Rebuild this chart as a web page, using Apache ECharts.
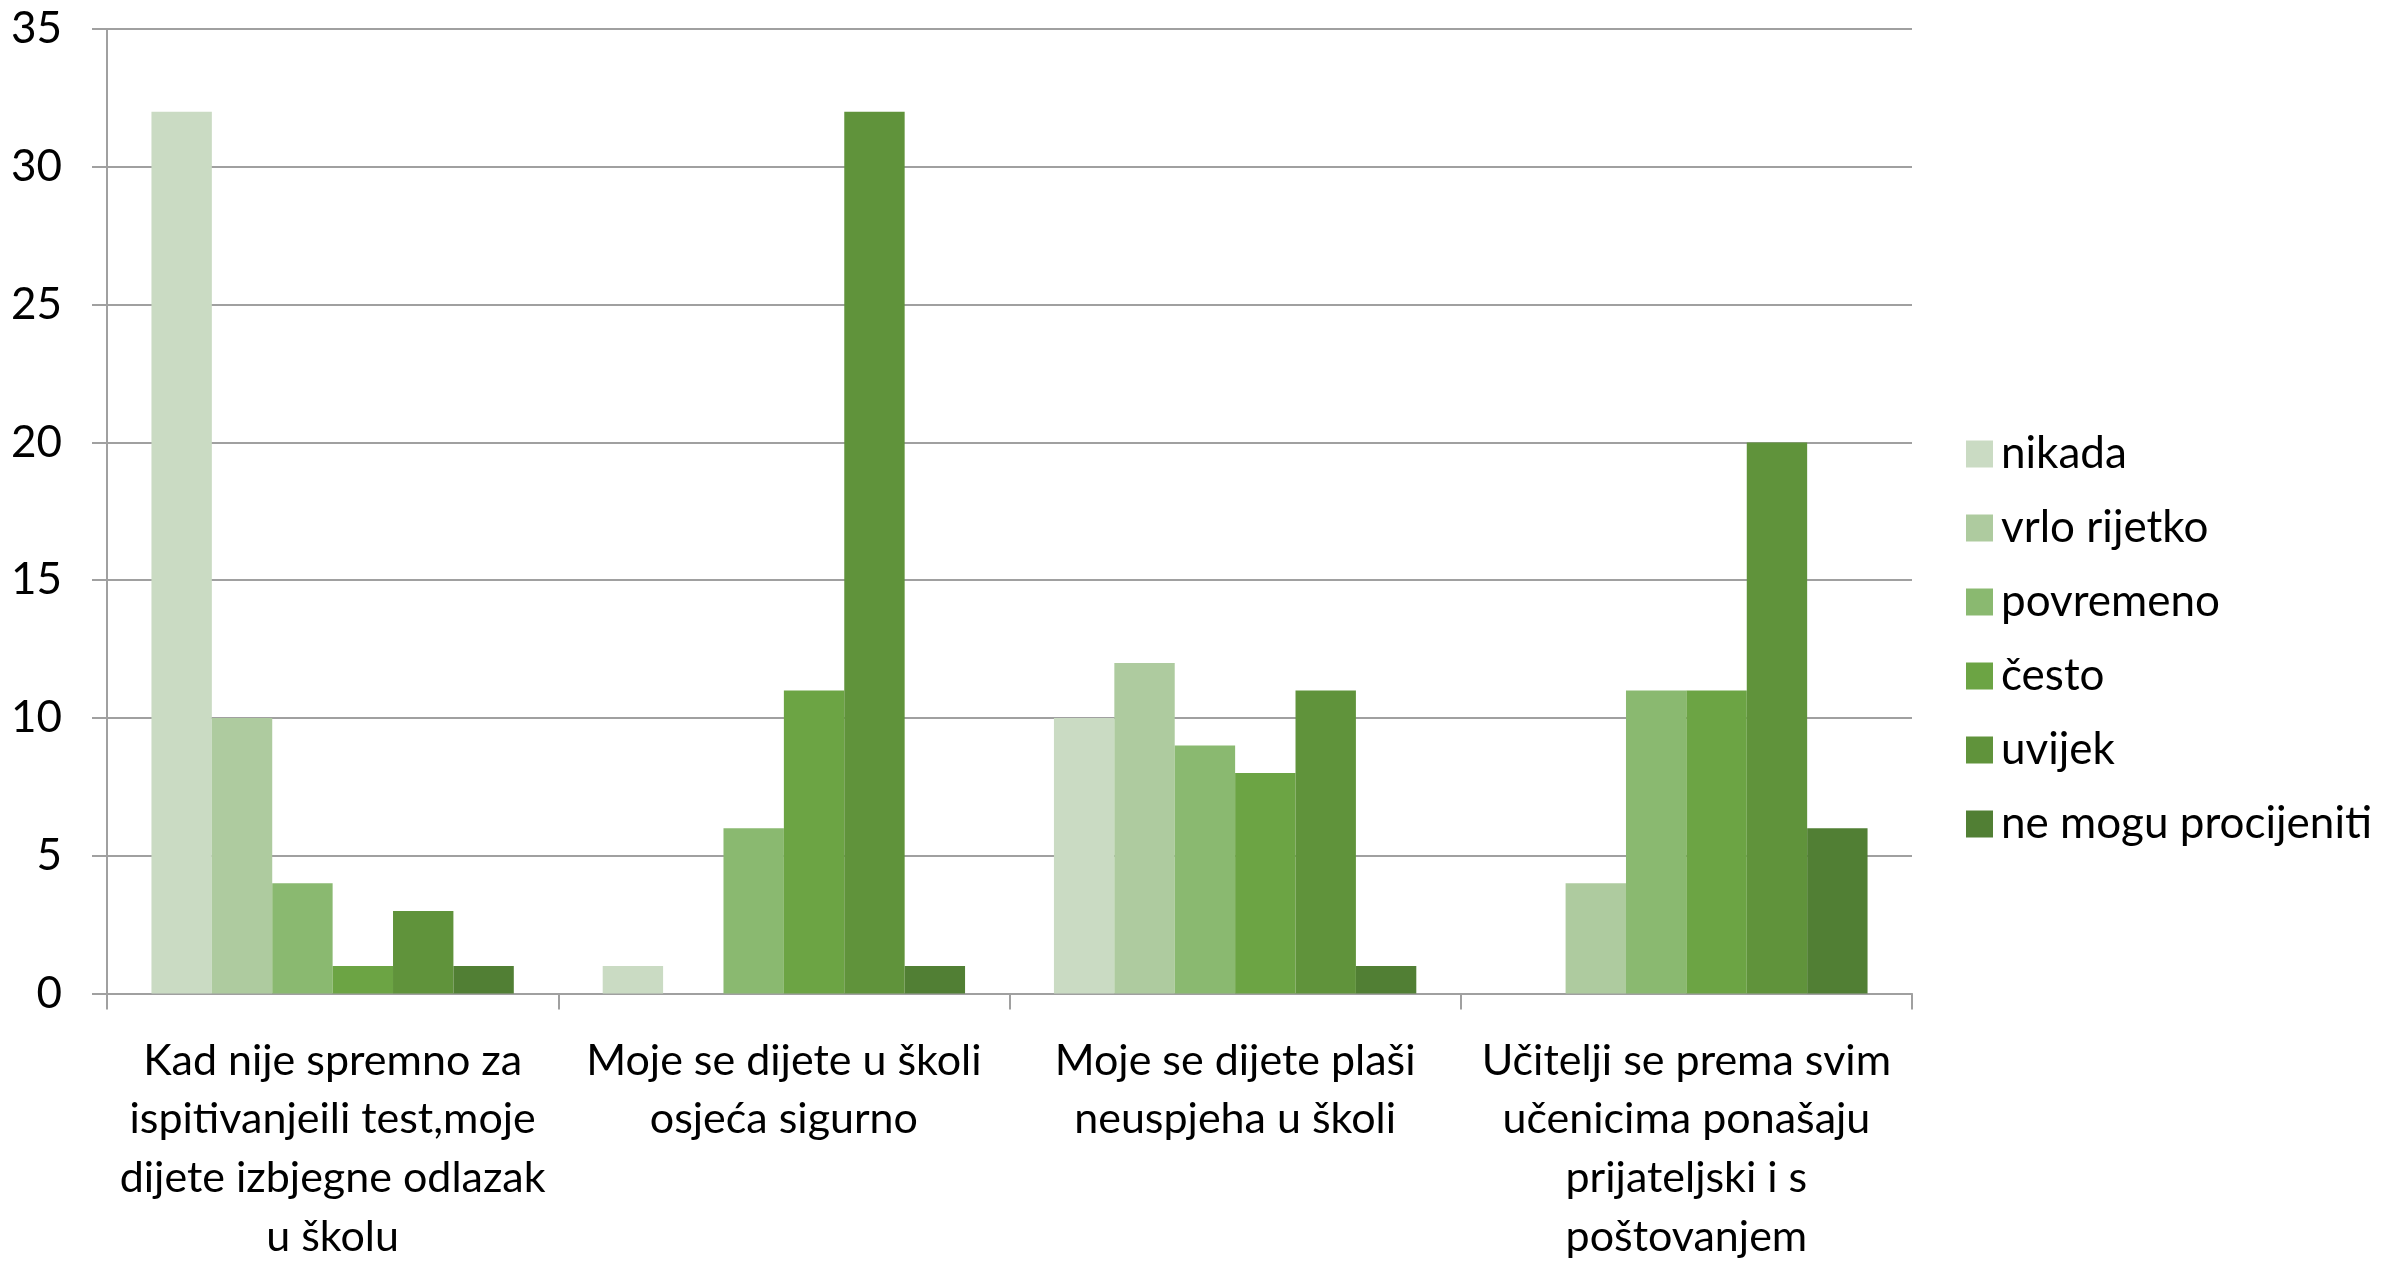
<!DOCTYPE html>
<html>
<head>
<meta charset="utf-8">
<script src="https://cdn.jsdelivr.net/npm/echarts@6/dist/echarts.min.js"></script>
<style>html,body{margin:0;padding:0;background:#fff;}#c{width:2387px;height:1266px;}</style>
</head>
<body>
<div id="c"></div>
<script>
const categories = [
  "Kad nije spremno za\nispitivanjeili test,moje\ndijete izbjegne odlazak\nu školu",
  "Moje se dijete u školi\nosjeća sigurno",
  "Moje se dijete plaši\nneuspjeha u školi",
  "Učitelji se prema svim\nučenicima ponašaju\nprijateljski i s\npoštovanjem"
];
const seriesNames = ["nikada", "vrlo rijetko", "povremeno", "često", "uvijek", "ne mogu procijeniti"];
const nikada = [32, 1, 10, 0];
const vrloRijetko = [10, 0, 12, 4];
const povremeno = [4, 6, 9, 11];
const cesto = [1, 11, 8, 11];
const uvijek = [3, 32, 11, 20];
const neMogu = [1, 1, 1, 6];
const seriesValues = [nikada, vrloRijetko, povremeno, cesto, uvijek, neMogu];
const colors = ["#CADBC3", "#AECB9F", "#8AB970", "#6CA444", "#60933B", "#517F34"];

const FONT = "Lato";
const chart = echarts.init(document.getElementById('c'), null, {renderer: 'canvas'});
chart.setOption({
  animation: false,
  backgroundColor: '#ffffff',
  color: colors,
  textStyle: {fontFamily: FONT},
  grid: {left: 107, right: 475, top: 29, bottom: 262, containLabel: false},
  legend: {
    orient: 'vertical',
    left: 1961,
    top: 427,
    itemWidth: 27,
    itemHeight: 27,
    itemGap: 30,
    icon: 'rect',
    data: seriesNames,
    textStyle: {fontFamily: FONT, fontSize: 44, color: '#000', lineHeight: 44, padding: [0, 0, 0, 3]}
  },
  xAxis: {
    type: 'category',
    data: categories,
    axisLine: {lineStyle: {color: '#A0A0A0', width: 2}},
    axisTick: {show: true, length: 16, lineStyle: {color: '#A0A0A0', width: 2}},
    axisLabel: {fontFamily: FONT, fontSize: 43, color: '#000', lineHeight: 58.6, margin: 38, interval: 0, align: 'center'}
  },
  yAxis: {
    type: 'value',
    min: 0, max: 35, interval: 5,
    axisLine: {show: true, lineStyle: {color: '#A0A0A0', width: 2}},
    axisTick: {show: true, length: 15, lineStyle: {color: '#A0A0A0', width: 2}},
    splitLine: {lineStyle: {color: '#A0A0A0', width: 2}},
    axisLabel: {fontFamily: FONT, fontSize: 44, color: '#000', margin: 45}
  },
  series: seriesNames.map((n, i) => ({
    name: n,
    type: 'bar',
    data: seriesValues[i],
    barGap: '0%',
    barCategoryGap: '19.7%',
    itemStyle: {color: colors[i]}
  }))
});
</script>
</body>
</html>
